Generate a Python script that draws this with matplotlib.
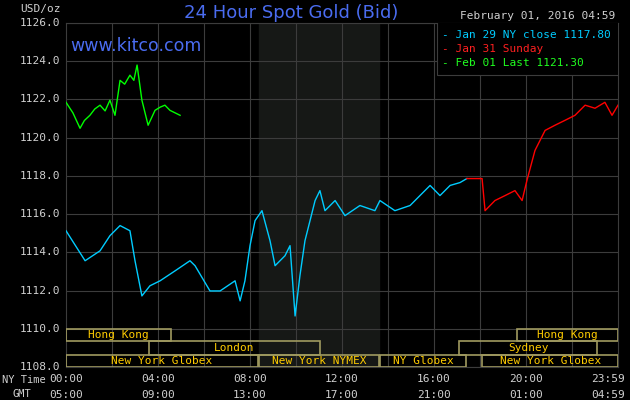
import matplotlib
matplotlib.use("Agg")
import matplotlib.pyplot as plt
from matplotlib.patches import Rectangle

green_h = [0, 0.3, 0.61, 0.8, 1.04, 1.25, 1.48, 1.7, 1.91, 2.13, 2.35, 2.55, 2.78, 2.95, 3.09, 3.3, 3.57, 3.87, 4.1, 4.3, 4.52, 4.96]
green_p = [1121.85, 1121.3, 1120.49, 1120.9, 1121.17, 1121.5, 1121.7, 1121.4, 1121.96, 1121.17, 1123.0, 1122.8, 1123.27, 1123.0, 1123.8, 1121.96, 1120.65, 1121.43, 1121.6, 1121.7, 1121.43, 1121.17]

cyan_h = [0, 0.83, 1.48, 1.91, 2.35, 2.78, 3.0, 3.3, 3.65, 4.09, 4.74, 5.39, 5.61, 6.26, 6.7, 7.35, 7.57, 7.78, 8.0, 8.22, 8.52, 8.87, 9.09, 9.52, 9.74, 9.96, 10.17, 10.39, 10.83, 11.04, 11.26, 11.7, 12.13, 12.78, 13.43, 13.65, 14.3, 14.96, 15.39, 15.83, 16.26, 16.7, 17.13, 17.43]
cyan_p = [1115.13, 1113.56, 1114.08, 1114.87, 1115.4, 1115.13, 1113.56, 1111.72, 1112.25, 1112.51, 1113.03, 1113.56, 1113.3, 1111.98, 1111.98, 1112.51, 1111.46, 1112.51, 1114.35, 1115.66, 1116.18, 1114.61, 1113.3, 1113.82, 1114.35, 1110.67, 1112.77, 1114.61, 1116.71, 1117.23, 1116.18, 1116.71, 1115.92, 1116.45, 1116.18, 1116.71, 1116.18, 1116.45, 1116.97, 1117.5, 1116.97, 1117.5, 1117.65, 1117.86]

red_h = [17.43, 18.09, 18.22, 18.65, 19.09, 19.52, 19.83, 20.04, 20.39, 20.83, 21.26, 21.7, 22.13, 22.57, 23.0, 23.43, 23.74, 24.0]
red_p = [1117.86, 1117.86, 1116.18, 1116.71, 1116.97, 1117.23, 1116.71, 1117.76, 1119.33, 1120.38, 1120.65, 1120.91, 1121.17, 1121.7, 1121.54, 1121.85, 1121.17, 1121.7]

y_ticks = [1108, 1110, 1112, 1114, 1116, 1118, 1120, 1122, 1124, 1126]
x_ticks = [0, 4, 8, 12, 16, 20, 23.98]
ny_labels = ["00:00", "04:00", "08:00", "12:00", "16:00", "20:00", "23:59"]
gmt_labels = ["05:00", "09:00", "13:00", "17:00", "21:00", "01:00", "04:59"]

sessions = [("Hong Kong", 0, 4.55, 0), ("Hong Kong", 19.6, 24, 0),
            ("London", 3.6, 11.05, 1), ("Sydney", 17.1, 23.1, 1),
            ("New York Globex", 0, 8.35, 2), ("New York NYMEX", 8.4, 13.6, 2),
            ("NY Globex", 13.65, 17.4, 2), ("New York Globex", 18.1, 24, 2)]

mono = "DejaVu Sans Mono"
fig = plt.figure(figsize=(6.3, 4), dpi=100, facecolor="black")
ax = fig.add_axes([66/630, 1-367/400, 552/630, 344/400], facecolor="black")
ax.set_xlim(0, 24)
ax.set_ylim(1108, 1126)

ax.axvspan(8.4, 13.6, color="#161816", zorder=0)
for h in range(2, 24, 2):
    ax.axvline(h, color="#3c3c3c", lw=0.8, zorder=1)
for y in y_ticks:
    ax.axhline(y, color="#3c3c3c", lw=0.8, zorder=1)

rows = [(1109.35, 1110.0), (1108.65, 1109.35), (1108.0, 1108.65)]
for lab, s, e, r in sessions:
    y0, y1 = rows[r]
    ax.add_patch(Rectangle((s, y0), e - s, y1 - y0, fill=False, ec="#a09a60", lw=1.2, zorder=3))
    ax.text((s + e) / 2, (y0 + y1) / 2, lab, color="#ffcc00", fontsize=8, family=mono,
            ha="center", va="center", zorder=4)

ax.plot(green_h, green_p, color="#00ff00", lw=1, zorder=5)
ax.plot(cyan_h, cyan_p, color="#00ccff", lw=1, zorder=5)
ax.plot(red_h, red_p, color="#ff0000", lw=1, zorder=5)

ax.add_patch(Rectangle((16.15, 1123.3), 8, 2.8, facecolor="black", ec="#3c3c3c", lw=0.8, zorder=6))
leg = [("Jan 29 NY close 1117.80", "#00ccff"), ("Jan 31 Sunday", "#ff2020"), ("Feb 01 Last 1121.30", "#20ff20")]
for i, (t, c) in enumerate(leg):
    ax.text(16.35, 1125.35 - i * 0.72, "- " + t, color=c, fontsize=8, family=mono, va="center", zorder=7)

ax.text(0.2, 1124.8, "www.kitco.com", color="#4a6cf0", fontsize=12.5, va="center", zorder=7)

for sp in ax.spines.values():
    sp.set_color("#3c3c3c")
ax.set_xticks([])
ax.set_yticks([])
for y in y_ticks:
    ax.text(-0.25, y, f"{y:.1f}", color="#d0d0d0", fontsize=8, family=mono, ha="right", va="center")
for h, a, b in zip(x_ticks, ny_labels, gmt_labels):
    if h > 23:
        ax.text(24.3, 1107.35, a, color="#d0d0d0", fontsize=8, family=mono, ha="right", va="center", clip_on=False)
        ax.text(24.3, 1106.55, b, color="#d0d0d0", fontsize=8, family=mono, ha="right", va="center", clip_on=False)
    else:
        ax.text(h, 1107.35, a, color="#d0d0d0", fontsize=8, family=mono, ha="center", va="center", clip_on=False)
        ax.text(h, 1106.55, b, color="#d0d0d0", fontsize=8, family=mono, ha="center", va="center", clip_on=False)
fig.text(2/630, 1-380/400, "NY Time", color="#d0d0d0", fontsize=7.5, family=mono, va="center")
fig.text(12/630, 1-394/400, "GMT", color="#d0d0d0", fontsize=7.5, family=mono, va="center")
fig.text(20/630, 1-9/400, "USD/oz", color="#d0d0d0", fontsize=8, family=mono, va="center")
fig.text(291/630, 1-13/400, "24 Hour Spot Gold (Bid)", color="#4a6cf0", fontsize=13, ha="center", va="center")
fig.text(615/630, 1-16/400, "February 01, 2016 04:59", color="#d0d0d0", fontsize=8, family=mono, ha="right", va="center")

fig.savefig("out.png", dpi=100, facecolor="black")
